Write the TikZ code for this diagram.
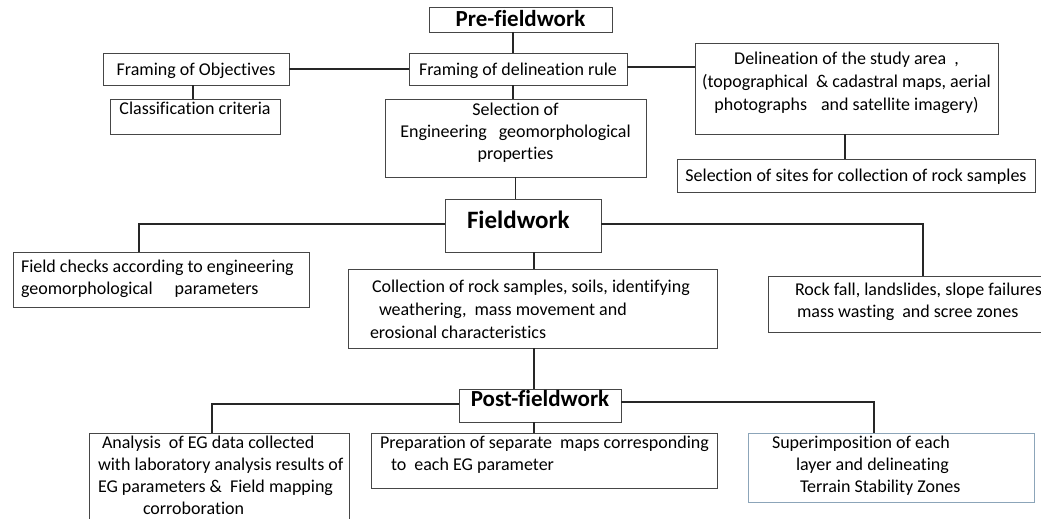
\documentclass[tikz,border=0pt]{standalone}
\usepackage{fontspec}
\setmainfont{Carlito}[Ligatures={TeX,NoCommon}]
\usetikzlibrary{calc}
\definecolor{boxc}{RGB}{70,70,70}
\definecolor{supc}{RGB}{140,165,185}
\newcommand{\fl}{\rule{0pt}{15pt}}
\newcommand{\hl}{\rule{0pt}{20pt}}
\newcommand{\bxc}[4]{\parbox[t][#2][t]{#1}{\vspace*{#3}\centering #4\par}}
\newcommand{\bxl}[4]{\parbox[t][#2][t]{#1}{\vspace*{#3}\raggedright #4\par}}
\tikzset{
  bx/.style={draw=boxc, line width=0.9pt, inner sep=0pt, outer sep=0pt, anchor=north west, font=\fontsize{18}{22}\selectfont},
  hd/.style={bx, font=\fontsize{23}{26}\selectfont\bfseries},
  ln/.style={draw=black!85, line width=1.4pt}
}
\begin{document}
\begin{tikzpicture}[x=1pt,y=-1pt]
\useasboundingbox[fill=white] (0,0) rectangle (1041,519);
% nodes
\node[hd] (pre) at (429,7) {\bxc{183pt}{25pt}{0pt}{\hl Pre-fieldwork}};
\node[bx] (obj) at (103,53) {\bxc{186pt}{32pt}{7pt}{\fl Framing of Objectives}};
\node[bx] (cls) at (110,99) {\bxc{170pt}{35pt}{1pt}{\fl Classification criteria}};
\node[bx] (rule) at (409,53) {\bxc{218pt}{32pt}{7pt}{\fl Framing of delineation rule}};
\node[bx] (sel) at (385,99) {\bxc{261pt}{78pt}{1.5pt}{\fl Selection of\\ Engineering\hspace{12pt}geomorphological\\ properties}};
\node[bx] (study) at (695,43) {\bxc{303pt}{91pt}{6pt}{\fontsize{18}{23}\selectfont\fl Delineation of the study area\hspace{8pt},\\ (topographical\hspace{8pt}\& cadastral maps, aerial\\ photographs\hspace{14pt}and satellite imagery)}};
\node[bx] (sites) at (677,159) {\bxc{358pt}{33pt}{7pt}{\fl Selection of sites for collection of rock samples}};
\node[hd, font=\fontsize{25}{28}\selectfont\bfseries] (field) at (445,199) {\bxl{156pt}{53pt}{9pt}{\hl\hspace*{22pt}Fieldwork}};
\node[bx] (checks) at (13,252) {\bxl{296pt}{55pt}{5.5pt}{\fl\hspace*{8pt}Field checks according to engineering\\ \hspace*{8pt}geomorphological\hspace{22pt}parameters}};
\node[bx] (coll) at (348,269) {\bxl{369pt}{79pt}{8.5pt}{\fontsize{18}{23}\selectfont\fl\hspace*{24pt}Collection of rock samples, soils, identifying\\ \hspace*{31pt}weathering,\hspace{8pt}mass movement and\\ \hspace*{22pt}erosional characteristics}};
\node[bx] (rock) at (768,276) {\bxl{280pt}{56pt}{4.5pt}{\fl\hspace*{27pt}Rock fall, landslides, slope failures\\ \hspace*{29pt}mass wasting\hspace{8pt}and scree zones}};
\node[hd] (post) at (459,389) {\bxc{162pt}{33pt}{-1pt}{\rule{0pt}{18pt}Post-fieldwork}};
\node[bx] (ana) at (89,433) {\bxl{260pt}{92pt}{0.7pt}{\fl\hspace*{13pt}Analysis\hspace{8pt}of EG data collected\\ \hspace*{9pt}with laboratory analysis results of\\ \hspace*{9pt}EG parameters \&\hspace{8pt}Field mapping\\ \hspace*{54pt}corroboration}};
\node[bx] (prep) at (371,433) {\bxl{346pt}{55pt}{0.5pt}{\fl\hspace*{9pt}Preparation of separate\hspace{8pt}maps corresponding\\ \hspace*{20pt}to\hspace{8pt}each EG parameter}};
\node[bx, draw=supc] (sup) at (748,433) {\bxl{286pt}{69pt}{0.5pt}{\fl\hspace*{24pt}Superimposition of each\\ \hspace*{48pt}layer and delineating\\ \hspace*{52pt}Terrain Stability Zones}};
% connectors
\coordinate (p1) at ([xshift=-7.5pt]pre.south);
\draw[ln] (p1) -- (p1 |- rule.north);
\draw[ln] (obj.east) -- (rule.west);
\coordinate (o1) at ([xshift=-3pt]obj.south);
\draw[ln] (o1) -- (o1 |- cls.north);
\coordinate (r0) at ([xshift=-5pt]rule.south);
\draw[ln] (r0) -- (r0 |- sel.north);
\coordinate (r1) at ([yshift=2pt]rule.east);
\draw[ln] (r1) -- (r1 -| study.west);
\coordinate (s1) at ([xshift=-1.5pt]study.south);
\draw[ln] (s1) -- (s1 |- sites.north);
\draw[ln] (sel.south) -- (sel.south |- field.north);
\coordinate (f1) at ([yshift=1.5pt]field.west);
\coordinate (c1) at ([xshift=-22pt]checks.north);
\draw[ln] (f1) -| (c1);
\coordinate (f2) at ([yshift=1.5pt]field.east);
\coordinate (c2) at ([xshift=15pt]rock.north);
\draw[ln] (f2) -| (c2);
\coordinate (c3) at ([xshift=1.5pt]coll.north);
\draw[ln] (c3 |- field.south) -- (c3);
\coordinate (c4) at ([xshift=1.5pt]coll.south);
\draw[ln] (c4) -- (c4 |- post.north);
\draw[ln] (c4 |- post.south) -- (c4 |- prep.north);
\coordinate (q1) at ([yshift=1.5pt]post.west);
\coordinate (c5) at ([xshift=-7pt]ana.north);
\draw[ln] (q1) -| (c5);
\coordinate (q2) at ([yshift=3.5pt]post.east);
\coordinate (c6) at ([xshift=-17pt]sup.north);
\draw[ln] (q2) -| (c6);
\end{tikzpicture}
\end{document}
